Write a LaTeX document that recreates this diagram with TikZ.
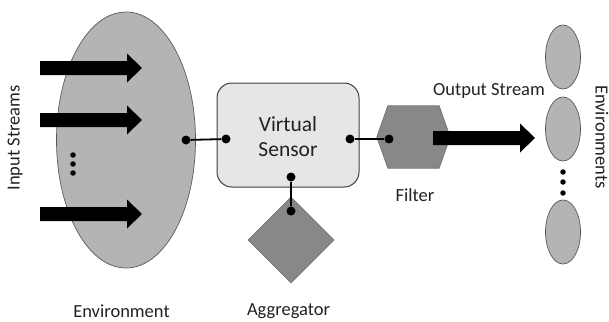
\documentclass[tikz,border=0pt]{standalone}
\usepackage{fontspec}
\setmainfont{Carlito}
\usetikzlibrary{shapes.geometric}
\definecolor{envgray}{RGB}{180,180,180}
\definecolor{opgray}{RGB}{136,136,136}
\definecolor{boxgray}{RGB}{230,230,230}
\definecolor{inkgray}{RGB}{34,34,34}
\begin{document}
\begin{tikzpicture}[x=1pt,y=-1pt,
  lbl/.style={font=\fontsize{18.5}{22}\selectfont, text=inkgray, inner sep=0pt},
  env/.style={ellipse, draw=black!65, line width=0.7pt, fill=envgray, inner sep=0pt},
  opshape/.style={draw=black!55, line width=0.7pt, fill=opgray},
  port/.style={circle, fill=black, inner sep=0pt, minimum size=9pt},
  smalldot/.style={circle, fill=black, inner sep=0pt, minimum size=5.5pt},
  link/.style={line width=1.8pt},
  pics/blockarrow/.style={code={
    \fill[black] (0,-7) -- (#1-15,-7) -- (#1-15,-14.5) -- (#1,0)
      -- (#1-15,14.5) -- (#1-15,7) -- (0,7) -- cycle;}}
]
\useasboundingbox (0,0) rectangle (609,321);

% environment with its incoming streams
\node[env, minimum width=139pt, minimum height=256pt] (environment) at (126,140) {};
\pic at (40,68)  {blockarrow=102};
\pic at (40,120) {blockarrow=102};
\pic at (40,214) {blockarrow=102};
\node[smalldot] (in1) at (73,155) {};
\node[smalldot] (in2) at (73,164) {};
\node[smalldot] (in3) at (73,173) {};

% virtual sensor
\node[draw=black!75, line width=1pt, fill=boxgray, rounded corners=15pt,
      minimum width=142pt, minimum height=104pt] (vs) at (288,135) {};
\node[lbl, font=\fontsize{21.5}{25}\selectfont, align=center] (vslabel) at (288,137) {Virtual\\Sensor};

% filter (hexagon)
\node[minimum width=73pt, minimum height=62pt, inner sep=0pt] (filter) at (413.5,137) {};
\draw[opshape] (filter.west) -- ([xshift=11pt]filter.north west)
  -- ([xshift=-11pt]filter.north east) -- (filter.east)
  -- ([xshift=-11pt]filter.south east) -- ([xshift=11pt]filter.south west) -- cycle;

% aggregator (diamond)
\node[diamond, opshape, minimum width=86pt, minimum height=86pt, inner sep=0pt] (agg) at (291,240) {};

% output stream
\pic at (433,138) {blockarrow=102};

% target environments
\node[env, minimum width=35pt, minimum height=64pt] (out1) at (563,57) {};
\node[env, minimum width=35pt, minimum height=64pt] (out2) at (563,129) {};
\node[env, minimum width=35pt, minimum height=64pt] (out3) at (563,232) {};
\node[smalldot] (od1) at (563,172) {};
\node[smalldot] (od2) at (563,182) {};
\node[smalldot] (od3) at (563,193) {};

% ports and their links
\node[port] (pEnv) at (186,140) {};
\node[port] (pVsL) at (226,139) {};
\node[port] (pVsR) at (350,139) {};
\node[port] (pFil) at (389,139) {};
\node[port] (pVsB) at (291,177) {};
\node[port] (pAgg) at (291,211) {};
\draw[link] (pEnv) -- (pVsL);
\draw[link] (pVsR) -- (pFil);
\draw[link] (pVsB) -- (pAgg);

% labels
\node[lbl, rotate=90] (tIn) at (15,138) {Input Streams};
\node[lbl] (tEnv) at (121.5,311) {Environment};
\node[lbl] (tAgg) at (288.5,311) {Aggregator};
\node[lbl] (tFil) at (415,195) {Filter};
\node[lbl] (tOut) at (489,91) {Output Stream};
\node[lbl, rotate=-90] (tEnvs) at (602,137) {Environments};
\end{tikzpicture}
\end{document}
